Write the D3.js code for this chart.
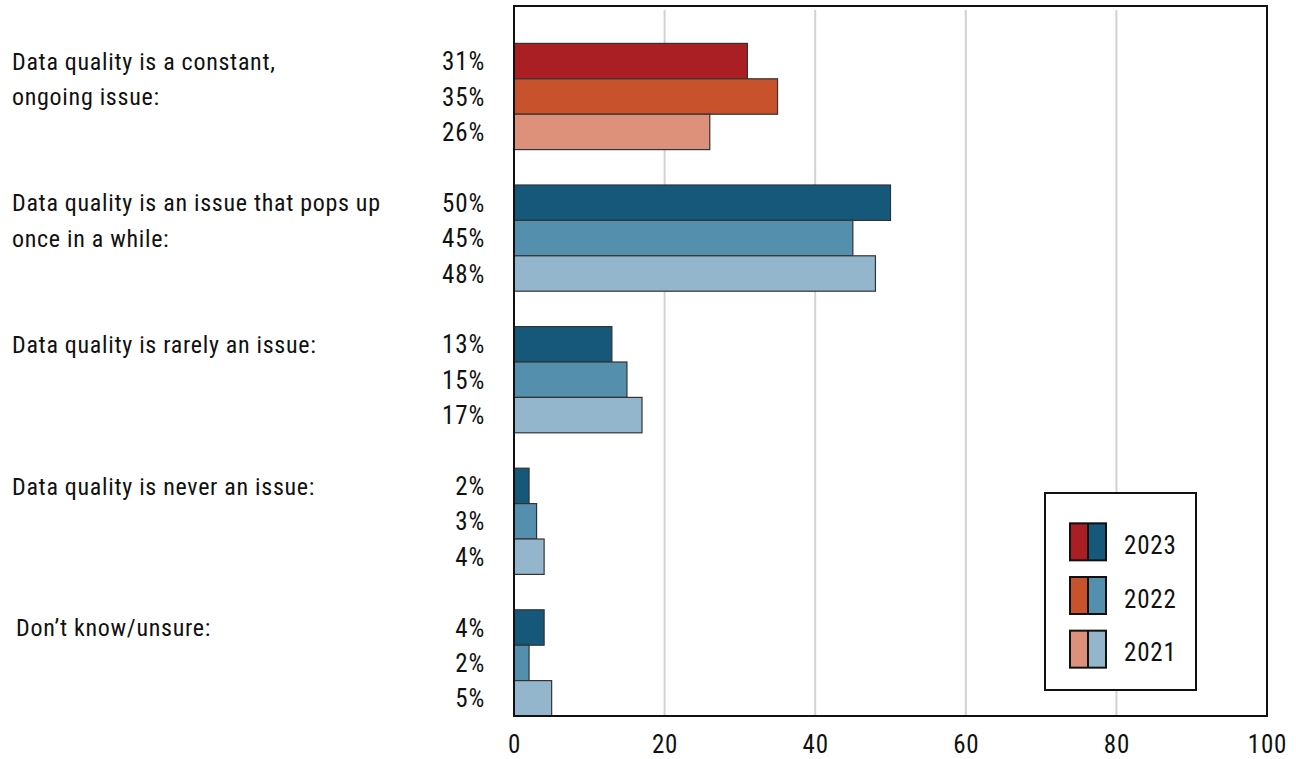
<!DOCTYPE html>
<html>
<head>
<meta charset="utf-8">
<script src="https://cdn.jsdelivr.net/npm/d3@7"></script>
<style>
  html, body { margin: 0; padding: 0; background: #fff; }
  svg { display: block; }
  text { font-family: "Roboto Condensed", "Liberation Sans Narrow", "DejaVu Sans Condensed", "Roboto", sans-serif; fill: #111; }
</style>
</head>
<body>
<svg id="chart" width="1296" height="759"></svg>
<script>
// Survey responses by year (percent of respondents)
const categories = [
  ["Data quality is a constant,", "ongoing issue:"],
  ["Data quality is an issue that pops up", "once in a while:"],
  ["Data quality is rarely an issue:"],
  ["Data quality is never an issue:"],
  ["Don\u2019t know/unsure:"]
];
const years = ["2023", "2022", "2021"];
const values2023 = [31, 50, 13, 2, 4];
const values2022 = [35, 45, 15, 3, 2];
const values2021 = [26, 48, 17, 4, 5];
const xTicks = [0, 20, 40, 60, 80, 100];

// First category uses the warm palette, the rest use the blue palette
const warmColors = ["#a91f24", "#c8522b", "#dd917a"];
const coolColors = ["#16587a", "#548fae", "#93b6cc"];

const series = [values2023, values2022, values2021];

const svg = d3.select("#chart");
const plotLeft = 514, plotRight = 1267, plotTop = 6, plotBottom = 716;

const x = d3.scaleLinear().domain([0, 100]).range([plotLeft, plotRight]);
const y = d3.scaleBand().domain(d3.range(categories.length)).range([plotTop + 2, plotBottom]);
// Each group leaves one slot empty above its three bars
const ySub = d3.scaleBand().domain([-1, 0, 1, 2]).range([0, y.bandwidth()]);

// Vertical gridlines
svg.append("g")
  .selectAll("line")
  .data(xTicks.filter(d => d > 0 && d < 100))
  .join("line")
  .attr("x1", d => x(d)).attr("x2", d => x(d))
  .attr("y1", plotTop + 4).attr("y2", plotBottom)
  .attr("stroke", "#d2d2d2").attr("stroke-width", 2);

// Bars
const rows = [];
categories.forEach((c, i) => {
  series.forEach((s, j) => {
    rows.push({ cat: i, year: j, value: s[i] });
  });
});

svg.append("g")
  .selectAll("rect")
  .data(rows)
  .join("rect")
  .attr("x", x(0))
  .attr("y", d => y(d.cat) + ySub(d.year))
  .attr("width", d => x(d.value) - x(0))
  .attr("height", ySub.bandwidth())
  .attr("fill", d => (d.cat === 0 ? warmColors : coolColors)[d.year])
  .attr("stroke", "#333")
  .attr("stroke-width", 1.2);

// Value labels
svg.append("g")
  .selectAll("text")
  .data(rows)
  .join("text")
  .attr("x", 485)
  .attr("y", d => y(d.cat) + ySub(d.year) + ySub.bandwidth() / 2)
  .attr("dy", "0.36em")
  .attr("text-anchor", "end")
  .attr("font-size", 25)
  .attr("letter-spacing", 0.8)
  .text(d => d.value + "%");

// Category labels
const catG = svg.append("g");
categories.forEach((lines, i) => {
  lines.forEach((line, k) => {
    catG.append("text")
      .attr("x", i === 4 ? 16 : 12)
      .attr("y", y(i) + ySub(k) + ySub.bandwidth() / 2)
      .attr("dy", "0.36em")
      .attr("font-size", 24)
      .attr("letter-spacing", 0.7)
      .text(line);
  });
});

// Plot frame
svg.append("rect")
  .attr("x", plotLeft).attr("y", plotTop)
  .attr("width", plotRight - plotLeft).attr("height", plotBottom - plotTop)
  .attr("fill", "none").attr("stroke", "#111").attr("stroke-width", 2);

// X axis tick labels
const xAxis = d3.axisBottom(x).tickValues(xTicks).tickSize(0).tickPadding(19);
const axG = svg.append("g").attr("transform", `translate(0,${plotBottom})`).call(xAxis);
axG.select(".domain").remove();
axG.attr("font-family", null).attr("font-size", null);
axG.selectAll("text")
  .attr("font-size", 25)
  .attr("letter-spacing", 0.8)
  .attr("fill", "#111");

// Legend
const lg = svg.append("g");
lg.append("rect")
  .attr("x", 1045).attr("y", 493).attr("width", 151).attr("height", 197)
  .attr("fill", "#fff").attr("stroke", "#111").attr("stroke-width", 2);

const legendY = d3.scaleBand().domain(years).range([515, 676]);
years.forEach((yr, j) => {
  const cy = legendY(yr) + legendY.bandwidth() / 2;
  const g = lg.append("g");
  g.append("rect").attr("x", 1070).attr("y", cy - 18.5).attr("width", 18).attr("height", 37)
    .attr("fill", warmColors[j]);
  g.append("rect").attr("x", 1088).attr("y", cy - 18.5).attr("width", 18).attr("height", 37)
    .attr("fill", coolColors[j]);
  g.append("rect").attr("x", 1070).attr("y", cy - 18.5).attr("width", 36).attr("height", 37)
    .attr("fill", "none").attr("stroke", "#111").attr("stroke-width", 2);
  g.append("line").attr("x1", 1088).attr("x2", 1088).attr("y1", cy - 18.5).attr("y2", cy + 18.5)
    .attr("stroke", "#111").attr("stroke-width", 2);
  g.append("text").attr("x", 1124).attr("y", cy + 3).attr("dy", "0.36em")
    .attr("font-size", 25).attr("letter-spacing", 0.8).text(yr);
});
</script>
</body>
</html>
